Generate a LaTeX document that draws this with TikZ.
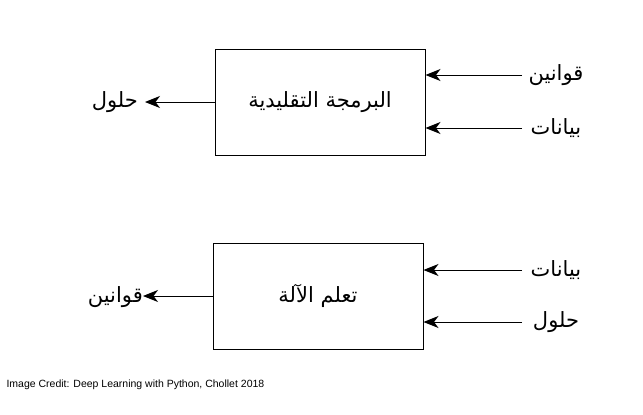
\documentclass[tikz,border=0pt]{standalone}
\usepackage{fontspec}
\setmainfont{Liberation Sans}
\newfontfamily\arabicfont[Script=Arabic]{DejaVu Sans}
\TeXXeTstate=1
\usetikzlibrary{arrows.meta}
\tikzset{>={Stealth[length=15pt,width=12pt,inset=4.5pt]}}
\tikzstyle{block}=[rectangle,draw=black,line width=1pt,minimum width=210pt,minimum height=106pt,font=\arabicfont\fontsize{21}{24}\selectfont]
\tikzstyle{word}=[inner sep=0pt,font=\arabicfont\fontsize{21}{24}\selectfont]
\tikzstyle{flow}=[->,line width=1pt]

\begin{document}
\begin{tikzpicture}[x=1pt,y=-1pt]
	\useasboundingbox (0,0) rectangle (643,415);
	\def \inx {522};
	\def \lblx {556};

	% traditional programming
	\node[block] (trad) at (320,102) {\beginR البرمجة التقليدية\endR};
	\coordinate (in1) at (\inx,75);
	\coordinate (in2) at (\inx,128);
	\node[word] (rules1) at (\lblx,75) {\beginR قوانين\endR};
	\node[word] (data1) at (\lblx,128) {\beginR بيانات\endR};
	\node[word,anchor=east] (answers1) at (138,102) {\beginR حلول\endR};
	\draw[flow] (in1) -- (in1 -| trad.east);
	\draw[flow] (in2) -- (in2 -| trad.east);
	\draw[flow] (trad.west) -- ([xshift=7pt]trad.west -| answers1.east);

	% machine learning
	\node[block] (ml) at (318,296) {\beginR تعلم الآلة\endR};
	\coordinate (in3) at (\inx,270);
	\coordinate (in4) at (\inx,322);
	\node[word] (data2) at (\lblx,270) {\beginR بيانات\endR};
	\node[word] (answers2) at (\lblx,322) {\beginR حلول\endR};
	\node[word,anchor=east] (rules2) at (143,297) {\beginR قوانين\endR};
	\draw[flow] (in3) -- (in3 -| ml.east);
	\draw[flow] (in4) -- (in4 -| ml.east);
	\draw[flow] (ml.west) -- (ml.west -| rules2.east);

	\node[anchor=west,font=\fontsize{10.5}{12}\selectfont] (credit) at (3,385) {Image Credit: Deep Learning with Python, Chollet 2018};
\end{tikzpicture}
\end{document}
